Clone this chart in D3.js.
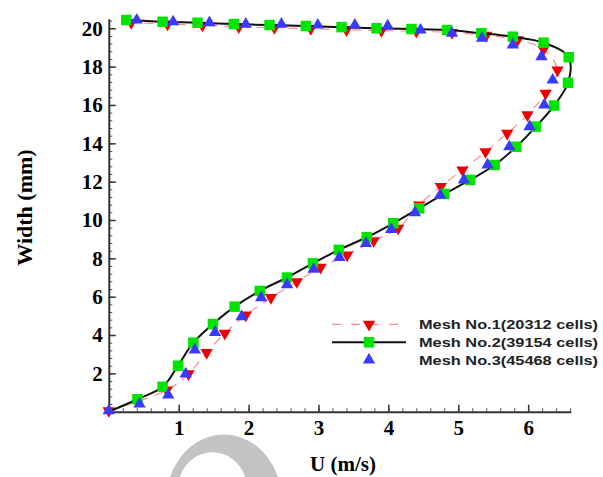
<!DOCTYPE html>
<html>
<head>
<meta charset="utf-8">
<script src="https://cdn.jsdelivr.net/npm/d3@7"></script>
<style>
  html, body { margin: 0; padding: 0; background: #fff; }
  svg { display: block; }
</style>
</head>
<body>
<svg id="chart" width="603" height="477"></svg>
<script>
// ---- data (U in m/s, Width in mm) ----
const mesh1U = [0.00, 0.83, 1.14, 1.40, 1.66, 1.96, 2.32, 2.69, 3.03, 3.41, 3.79, 4.14, 4.44, 4.75, 5.06, 5.39, 5.70, 5.99, 6.25, 6.42, 6.22, 5.85, 5.40, 4.91, 4.40, 3.90, 3.40, 2.89, 2.37, 1.86, 1.34, 0.84, 0.32];
const mesh1W = [0.05, 1.13, 1.97, 3.08, 4.09, 5.04, 5.95, 6.78, 7.53, 8.17, 8.92, 9.57, 10.78, 11.75, 12.61, 13.56, 14.52, 15.48, 16.61, 17.82, 18.90, 19.40, 19.63, 19.78, 19.84, 19.88, 19.92, 19.98, 20.03, 20.08, 20.16, 20.22, 20.30];

const mesh2U = [0.00, 0.41, 0.77, 0.99, 1.21, 1.49, 1.80, 2.16, 2.55, 2.92, 3.29, 3.69, 4.07, 4.44, 4.80, 5.17, 5.52, 5.83, 6.11, 6.37, 6.57, 6.58, 6.22, 5.78, 5.33, 4.84, 4.33, 3.83, 3.33, 2.82, 2.30, 1.79, 1.27, 0.77, 0.25];
const mesh2W = [0.00, 0.65, 1.30, 2.40, 3.60, 4.57, 5.48, 6.30, 7.00, 7.74, 8.44, 9.10, 9.83, 10.61, 11.36, 12.09, 12.87, 13.82, 14.87, 15.97, 17.16, 18.49, 19.25, 19.56, 19.74, 19.91, 19.96, 20.00, 20.06, 20.12, 20.17, 20.22, 20.29, 20.34, 20.43];

const mesh3U = [0.00, 0.44, 0.85, 1.10, 1.23, 1.52, 1.90, 2.18, 2.55, 2.93, 3.30, 3.68, 4.04, 4.38, 4.74, 5.08, 5.42, 5.73, 6.02, 6.23, 6.35, 6.19, 5.78, 5.34, 4.91, 4.46, 3.99, 3.52, 2.99, 2.47, 1.96, 1.44, 0.92, 0.40];
const mesh3W = [0.05, 0.40, 0.87, 1.97, 3.22, 4.14, 4.96, 5.95, 6.63, 7.43, 8.05, 8.78, 9.51, 10.38, 11.30, 12.09, 12.87, 13.82, 14.87, 16.00, 17.30, 18.52, 19.13, 19.48, 19.74, 19.91, 20.12, 20.17, 20.17, 20.22, 20.22, 20.29, 20.34, 20.43];

const xTickValues = [1, 2, 3, 4, 5, 6];
const yTickValues = [2, 4, 6, 8, 10, 12, 14, 16, 18, 20];
const legendLabels = ["Mesh No.1(20312 cells)", "Mesh No.2(39154 cells)", "Mesh No.3(45468 cells)"];
const xTitle = "U (m/s)";
const yTitle = "Width (mm)";

// ---- drawing ----
const svg = d3.select("#chart");
const x = d3.scaleLinear().domain([0, 6.61]).range([108.8, 570.8]);
const y = d3.scaleLinear().domain([0, 20.5]).range([411.7, 18.7]);

const zip = (us, ws) => us.map((u, i) => [u, ws[i]]);
const m1 = zip(mesh1U, mesh1W), m2 = zip(mesh2U, mesh2W), m3 = zip(mesh3U, mesh3W);

const RED = "#ee0000", REDLINE = "#ff8c8c", GREEN = "#00e400", BLUE = "#3a3aff";
const serif = "'Liberation Serif', 'Times New Roman', serif";

// watermark (decorative grey crescent)
svg.append("path")
  .attr("d", "M170,477 A58,67 0 0 1 278,477 L245,477 A34,35 0 0 0 180,477 Z")
  .attr("fill", "#c3c3c3");

// axes
const xMinor = d3.range(0, 6.61, 0.2);
const yMinor = d3.range(0, 20.5, 0.4);
const gx = svg.append("g").attr("transform", `translate(0,${y(0)})`);
gx.call(d3.axisBottom(x).tickValues(xMinor).tickSizeInner(-3.5).tickSizeOuter(0).tickFormat(""));
gx.select(".domain").remove();
const gx2 = svg.append("g").attr("transform", `translate(0,${y(0)})`);
gx2.call(d3.axisBottom(x).tickValues(xTickValues).tickSizeInner(-7).tickSizeOuter(0).tickPadding(8).tickFormat(d3.format("d")));
gx2.select(".domain").attr("stroke", "#333").attr("stroke-width", 2);
gx.selectAll(".tick line").attr("stroke", "#555").attr("stroke-width", 1);
gx2.selectAll(".tick line").attr("stroke", "#333").attr("stroke-width", 1.5);
gx2.selectAll(".tick text").attr("font-family", serif).attr("font-weight", "bold").attr("font-size", 21).attr("fill", "#000");

const gy = svg.append("g").attr("transform", `translate(${x(0)},0)`);
gy.call(d3.axisLeft(y).tickValues(yMinor).tickSizeInner(-3.5).tickSizeOuter(0).tickFormat(""));
gy.select(".domain").remove();
const gy2 = svg.append("g").attr("transform", `translate(${x(0)},0)`);
gy2.call(d3.axisLeft(y).tickValues(yTickValues).tickSizeInner(-7).tickSizeOuter(0).tickPadding(6).tickFormat(d3.format("d")));
gy2.select(".domain").attr("stroke", "#333").attr("stroke-width", 2);
gy.selectAll(".tick line").attr("stroke", "#555").attr("stroke-width", 1);
gy2.selectAll(".tick line").attr("stroke", "#333").attr("stroke-width", 1.5);
gy2.selectAll(".tick text").attr("font-family", serif).attr("font-weight", "bold").attr("font-size", 21).attr("fill", "#000");

// titles
svg.append("text").text(xTitle)
  .attr("x", 343).attr("y", 471).attr("text-anchor", "middle")
  .attr("font-family", serif).attr("font-weight", "bold").attr("font-size", 21);
svg.append("text").text(yTitle)
  .attr("transform", "translate(32,207.5) rotate(-90)").attr("text-anchor", "middle")
  .attr("font-family", serif).attr("font-weight", "bold").attr("font-size", 22);

// lines
const line = d3.line().x(d => x(d[0])).y(d => y(d[1])).curve(d3.curveCatmullRom.alpha(0.5));
svg.append("path").datum(m1).attr("d", line)
  .attr("fill", "none").attr("stroke", REDLINE).attr("stroke-width", 1.2).attr("stroke-dasharray", "9,7");

const tri = d3.symbol().type(d3.symbolTriangle).size(66);
const square = d3.symbol().type(d3.symbolSquare).size(110);

svg.append("g").selectAll("path").data(m1).join("path")
  .attr("d", tri).attr("fill", RED)
  .attr("transform", d => `translate(${x(d[0])},${y(d[1])}) rotate(180)`);

svg.append("path").datum(m2).attr("d", line)
  .attr("fill", "none").attr("stroke", "#111").attr("stroke-width", 2);

// the wall point (U = 0) of mesh 2 carries no visible marker in the reference
svg.append("g").selectAll("path").data(m2.filter(d => d[0] > 0)).join("path")
  .attr("d", square).attr("fill", GREEN)
  .attr("transform", d => `translate(${x(d[0])},${y(d[1])})`);

svg.append("g").selectAll("path").data(m3).join("path")
  .attr("d", tri).attr("fill", BLUE)
  .attr("transform", d => `translate(${x(d[0])},${y(d[1])})`);

// legend
const legY = [324.3, 342.3, 360];
const lg = svg.append("g");
lg.append("line").attr("x1", 332).attr("x2", 406).attr("y1", legY[0]).attr("y2", legY[0])
  .attr("stroke", REDLINE).attr("stroke-width", 1.2).attr("stroke-dasharray", "9,10");
lg.append("path").attr("d", tri).attr("fill", RED).attr("transform", `translate(369,${legY[0]}) rotate(180)`);
lg.append("line").attr("x1", 332).attr("x2", 406).attr("y1", legY[1]).attr("y2", legY[1])
  .attr("stroke", "#111").attr("stroke-width", 2);
lg.append("path").attr("d", square).attr("fill", GREEN).attr("transform", `translate(369,${legY[1]})`);
lg.append("path").attr("d", tri).attr("fill", BLUE).attr("transform", `translate(369,${legY[2]})`);
lg.selectAll("text").data(legendLabels).join("text")
  .text(d => d)
  .attr("x", 419).attr("y", (d, i) => legY[i] + 4.5)
  .attr("font-family", "'Liberation Sans', Arial, sans-serif").attr("font-weight", "bold")
  .attr("font-size", 12.5).attr("fill", "#222")
  .attr("textLength", 179).attr("lengthAdjust", "spacingAndGlyphs");
</script>
</body>
</html>
